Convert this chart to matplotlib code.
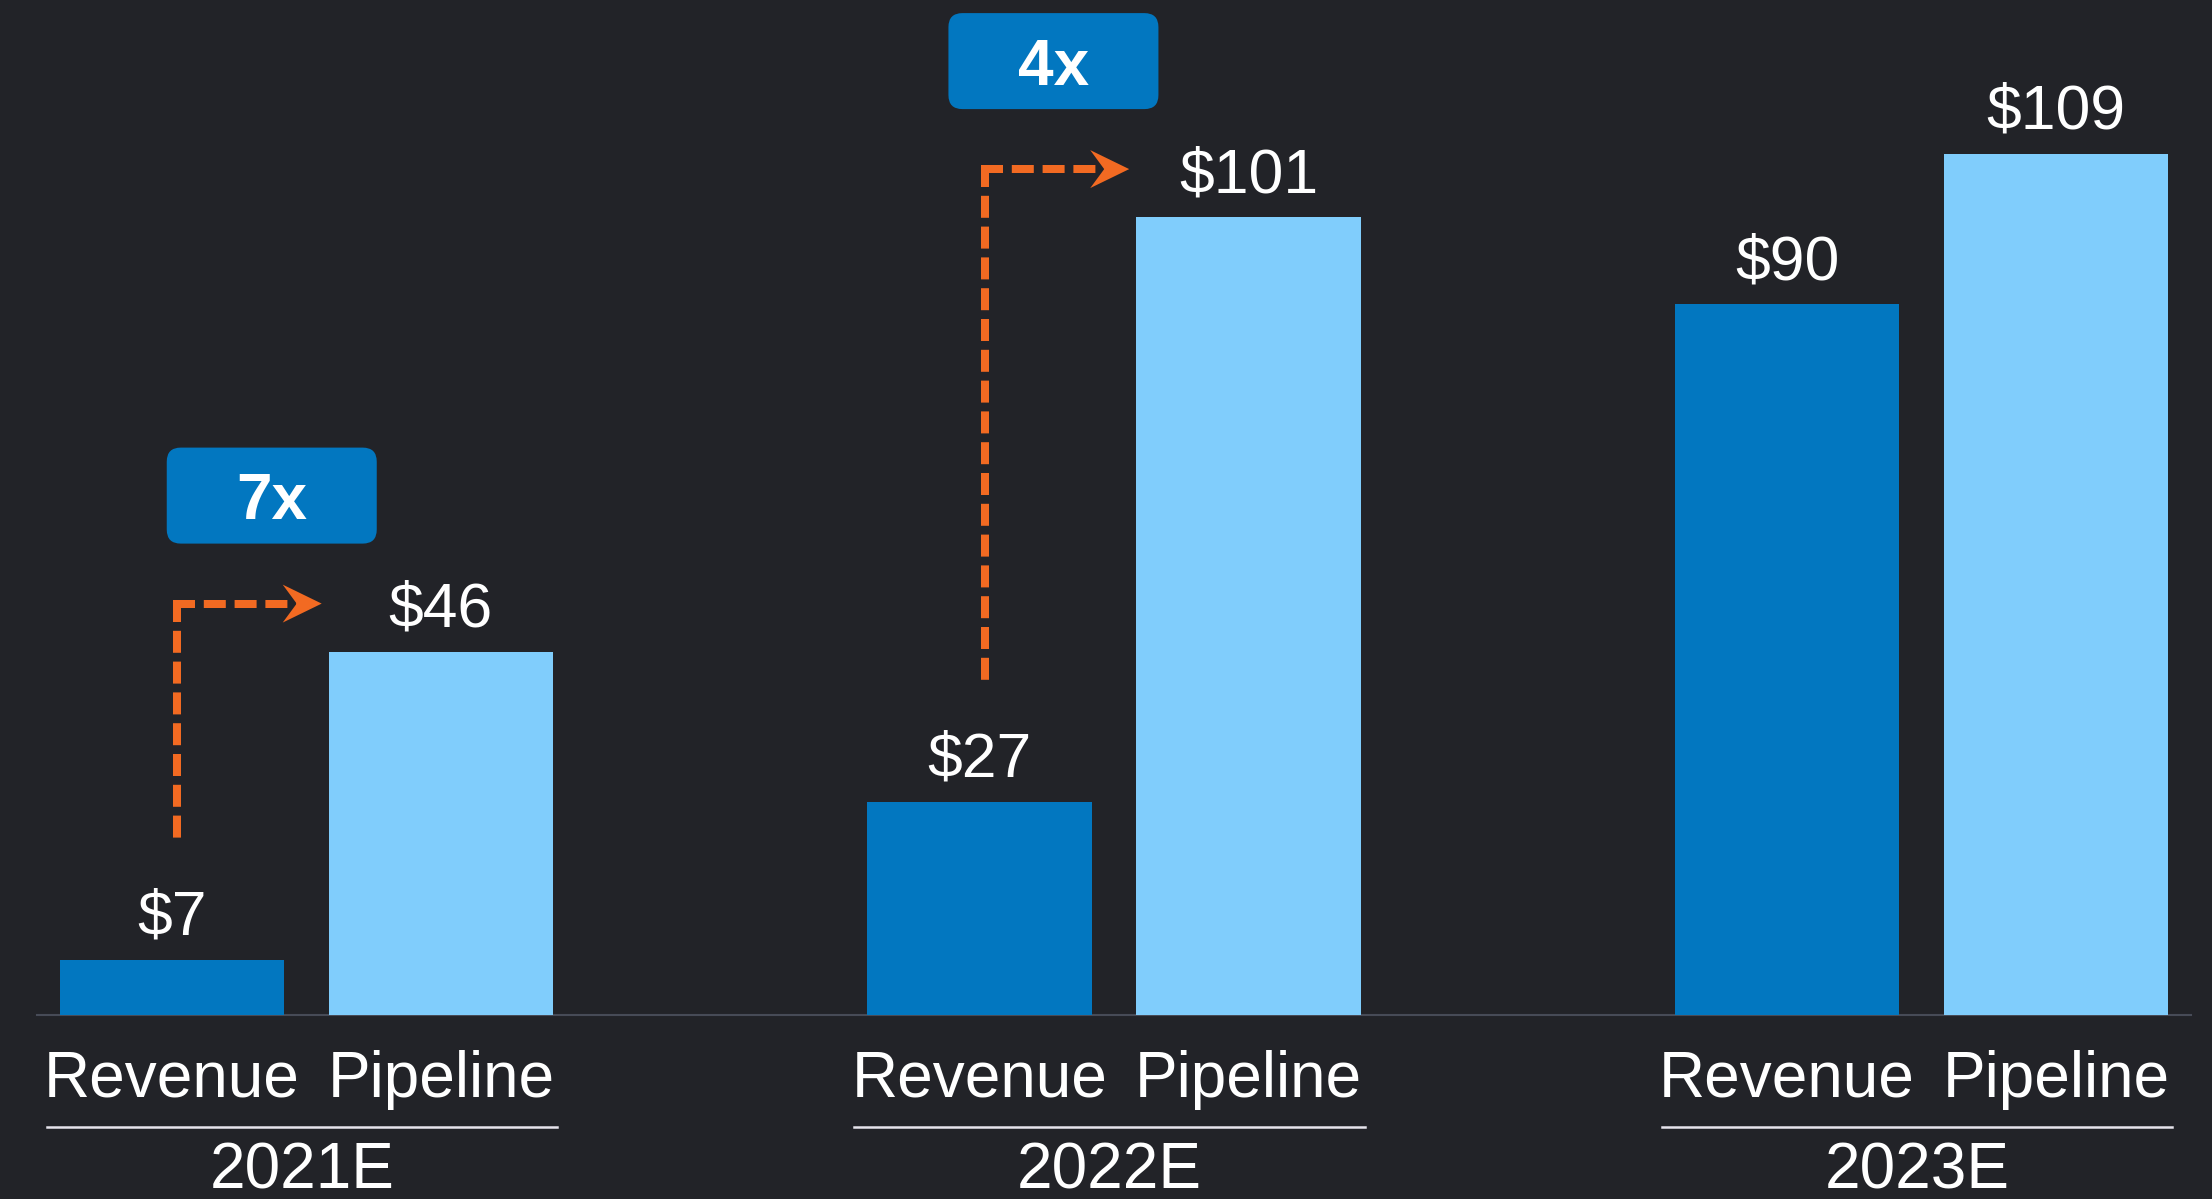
import matplotlib.pyplot as plt
import numpy as np
from matplotlib.patches import FancyBboxPatch, Polygon
from matplotlib.lines import Line2D
from matplotlib.transforms import blended_transform_factory, IdentityTransform

# data
years = ['2021E', '2022E', '2023E']
series = ['Revenue', 'Pipeline']
revenue = [7, 27, 90]
pipeline = [46, 101, 109]
growth = ['7x', '4x']            # pipeline vs revenue, first two years
growth_box_x = [-0.043, 0.925]   # badge centres, in group units

BG = '#222328'
REV = '#0277C0'
PIPE = '#80CDFC'
ORANGE = '#F26A22'
AXIS = '#474B57'

plt.rcParams['font.family'] = ['Liberation Sans', 'DejaVu Sans']

W, H = 2212, 1199
fig = plt.figure(figsize=(W / 100, H / 100), dpi=100, facecolor=BG)
ax = fig.add_axes([37 / W, 184 / H, 2154 / W, 1015 / H])
ax.set_facecolor(BG)

x = np.arange(len(years))
off = 0.1665
w = 0.278
ax.bar(x - off, revenue, w, color=REV, zorder=3)
ax.bar(x + off, pipeline, w, color=PIPE, zorder=3)
ax.set_xlim(-0.3337, 2.3337)
ax.set_ylim(0, 1015 / 7.9)

for s in ['top', 'left', 'right']:
    ax.spines[s].set_visible(False)
ax.spines['bottom'].set_color(AXIS)
ax.spines['bottom'].set_linewidth(1.5)
ax.set_xticks([])
ax.set_yticks([])

# value labels
for xs, vals in [(x - off, revenue), (x + off, pipeline)]:
    for xi, v in zip(xs, vals):
        ax.annotate(f'${v}', (xi, v), xytext=(0, 18), textcoords='offset points',
                    ha='center', va='baseline', fontsize=45, color='white')

# category / year labels under the axis
trans = blended_transform_factory(ax.transData, fig.transFigure)
for i, yr in enumerate(years):
    ax.text(x[i] - off, 0.0851, series[0], transform=trans, ha='center',
            va='baseline', fontsize=46, color='white')
    ax.text(x[i] + off, 0.0851, series[1], transform=trans, ha='center',
            va='baseline', fontsize=46, color='white')
    gc = x[i] - 0.0055
    ax.plot([gc - 0.316, gc + 0.316], [0.060, 0.060], transform=trans,
            color='#E6E4EC', lw=1.8, clip_on=False)
    ax.text(gc, 0.0085, yr, transform=trans, ha='center', va='baseline',
            fontsize=46, color='white')

# growth arrows and badges (pixel offsets from the bars)
ident = IdentityTransform()
for i, g in enumerate(growth):
    rx, ry = ax.transData.transform((x[i] - off, revenue[i]))
    pl, py = ax.transData.transform((x[i] + off - w / 2, pipeline[i]))
    xc = rx + 5
    yb = ry + 115
    yl = py + 48
    tip = pl - 7
    vert = Line2D([xc, xc], [yl + 4, yb], transform=ident, color=ORANGE, lw=5.76,
                  dashes=(2.75, 1.1), solid_capstyle='butt', dash_capstyle='butt')
    horiz = Line2D([xc - 4, tip - 24], [yl, yl], transform=ident, color=ORANGE, lw=5.76,
                   dashes=(2.75, 1.1), solid_capstyle='butt', dash_capstyle='butt')
    fig.add_artist(vert)
    fig.add_artist(horiz)
    head = Polygon([(tip, yl), (tip - 39, yl + 19), (tip - 25, yl), (tip - 39, yl - 19)],
                   closed=True, transform=ident, facecolor=ORANGE, edgecolor='none')
    fig.add_artist(head)

    bx, _ = ax.transData.transform((growth_box_x[i], 0))
    by = yl + 108
    box = FancyBboxPatch((bx - 105, by - 48), 210, 96,
                         boxstyle='round,pad=0,rounding_size=14',
                         transform=ident, facecolor=REV, edgecolor='none')
    fig.add_artist(box)
    fig.text(bx, by - 23.5, g, transform=ident, ha='center', va='baseline',
             fontsize=46, fontweight='bold', color='white')

fig.savefig('out.png', dpi=100, facecolor=BG)
